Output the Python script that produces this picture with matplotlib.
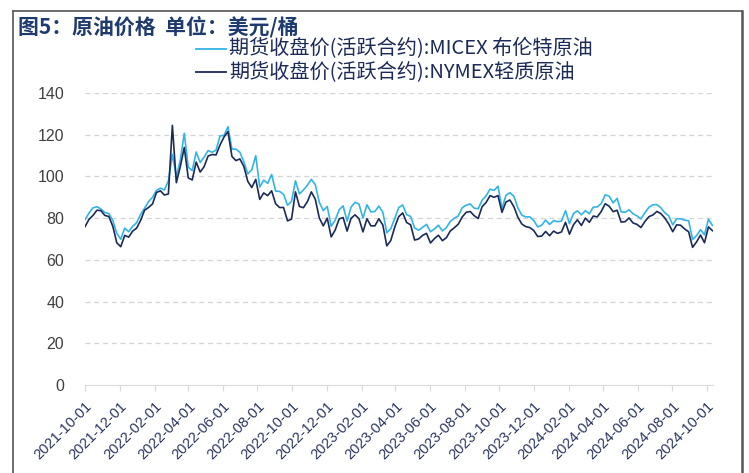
import matplotlib
matplotlib.use("Agg")
import matplotlib.pyplot as plt
import matplotlib.dates as mdates
from matplotlib.lines import Line2D
import numpy as np
import pandas as pd

plt.rcParams['font.family'] = ['Noto Sans CJK SC', 'DejaVu Sans']

# 周度数据(周五), 2021-10-01 起
brent = [
    79.3, 82.4, 84.9, 85.5, 84.4,            # 2021-10
    82.7, 82.2, 78.9, 72.7,                  # 2021-11
    69.9, 75.2, 73.5, 76.1, 77.8,            # 2021-12
    81.8, 84.7, 87.9, 90.0,                  # 2022-01
    93.3, 94.4, 93.5, 97.9,                  # 2022-02
    110.5, 100.0, 107.9, 120.7,              # 2022-03
    104.4, 102.8, 111.7, 106.7, 109.3,       # 2022-04
    112.4, 111.6, 112.6, 119.4,              # 2022-05
    119.7, 123.8, 113.1, 113.1,              # 2022-06
    111.6, 107.0, 101.2, 103.2, 110.0,       # 2022-07
    94.9, 98.2, 96.7, 100.9,                 # 2022-08
    93.0, 92.8, 91.4, 86.2, 88.0,            # 2022-09
    97.9, 91.6, 93.5, 95.8,                  # 2022-10
    98.6, 96.0, 87.6, 83.6,                  # 2022-11
    85.6, 76.1, 79.0, 84.0, 85.9,            # 2022-12
    78.6, 85.3, 87.6, 86.7,                  # 2023-01
    80.0, 86.4, 83.0, 83.2,                  # 2023-02
    85.8, 82.8, 73.0, 75.0, 79.8,            # 2023-03
    85.1, 86.3, 81.7, 80.8,                  # 2023-04
    75.3, 74.2, 75.6, 77.0,                  # 2023-05
    73.5, 74.8, 76.6, 73.9, 75.4,            # 2023-06
    78.5, 79.9, 81.1, 85.0,                  # 2023-07
    86.2, 86.8, 84.8, 84.5,                  # 2023-08
    88.6, 90.7, 93.9, 93.3, 95.3,            # 2023-09
    84.6, 90.9, 92.2, 90.5,                  # 2023-10
    84.9, 81.4, 80.6, 80.6,                  # 2023-11
    78.9, 75.8, 76.6, 79.1, 77.0,            # 2023-12
    78.8, 78.3, 78.6, 83.6,                  # 2024-01
    77.3, 82.2, 83.5, 81.6,                  # 2024-02
    83.6, 82.1, 85.3, 85.4, 87.0,            # 2024-03
    91.2, 90.5, 87.3, 89.5,                  # 2024-04
    83.0, 82.8, 84.0, 82.1, 81.1,            # 2024-05
    79.6, 82.6, 85.2, 86.4,                  # 2024-06
    86.5, 85.0, 82.6, 81.1,                  # 2024-07
    76.8, 79.7, 79.7, 79.0, 78.8,            # 2024-08
    69.8, 71.6, 74.5, 72.0,                  # 2024-09
    79.5, 76.5,                              # 2024-10
]
wti = [
    75.9, 79.4, 81.3, 83.8, 83.6,
    81.3, 80.8, 76.1, 68.2,
    66.3, 71.7, 70.9, 73.8, 75.2,
    78.9, 83.8, 85.1, 86.8,
    92.3, 93.1, 91.1, 91.6,
    124.5, 97.0, 104.7, 113.9,
    99.3, 98.3, 106.9, 102.1, 104.7,
    109.8, 110.5, 110.3, 115.1,
    118.9, 121.5, 109.6, 107.6,
    108.4, 104.8, 97.6, 94.7, 98.6,
    89.0, 92.1, 90.8, 93.1,
    86.9, 85.1, 85.1, 78.7, 79.5,
    92.6, 85.6, 85.0, 87.9,
    92.6, 89.0, 80.1, 76.3,
    80.0, 71.0, 74.3, 79.6, 80.3,
    73.8, 79.9, 81.6, 79.7,
    73.4, 79.7, 76.3, 76.3,
    79.7, 76.7, 66.7, 69.3, 75.7,
    80.7, 82.5, 77.9, 76.8,
    69.5, 70.0, 71.7, 72.7,
    68.1, 70.2, 71.8, 69.2, 70.6,
    73.9, 75.4, 77.1, 80.6,
    82.8, 83.2, 81.2, 79.8,
    85.5, 87.5, 90.8, 90.0, 90.8,
    82.8, 87.7, 88.7, 85.5,
    80.5, 77.2, 75.9, 75.5,
    74.1, 71.2, 71.4, 73.6, 71.6,
    73.8, 72.7, 73.4, 78.0,
    72.3, 76.8, 79.2, 76.5,
    80.0, 78.0, 81.0, 80.6, 83.2,
    86.9, 85.7, 83.1, 83.8,
    78.1, 78.3, 80.1, 77.7, 77.0,
    75.5, 78.4, 80.7, 81.5,
    83.2, 82.2, 80.1, 77.2,
    73.5, 76.8, 76.6, 74.8, 73.5,
    66.0, 68.6, 71.9, 68.2,
    75.8, 74.0,
]
assert len(brent) == len(wti)
dates = pd.date_range('2021-10-01', periods=len(brent), freq='W-FRI')

title = '图5：原油价格  单位：美元/桶'
label_brent = '期货收盘价(活跃合约):MICEX 布伦特原油'
label_wti = '期货收盘价(活跃合约):NYMEX轻质原油'
c_brent = '#33b4e6'
c_wti = '#1c2a58'

fig = plt.figure(figsize=(7.49, 4.73), dpi=100)
ax = fig.add_axes([85/749, 1-385/473, (713-85)/749, (385-93)/473])

ax.plot(dates, brent, color=c_brent, lw=1.2)
ax.plot(dates, wti, color=c_wti, lw=1.2)

ax.set_ylim(0, 140)
ax.set_yticks(np.arange(0, 141, 20))
ax.set_xlim(pd.Timestamp('2021-10-01'), pd.Timestamp('2024-10-12'))
ax.xaxis.set_major_locator(mdates.MonthLocator(bymonth=[2, 4, 6, 8, 10, 12], bymonthday=1))
ax.xaxis.set_major_formatter(mdates.DateFormatter('%Y-%m-%d'))

for y in range(20, 141, 20):
    ax.axhline(y, color='#d4d4d4', lw=0.9, ls=(0, (4, 3)), zorder=0)

for s in ['top', 'right', 'left']:
    ax.spines[s].set_visible(False)
ax.spines['bottom'].set_color('#d9d9d9')
ax.tick_params(axis='y', length=0, pad=15, labelsize=11.5, labelcolor='#404040')
ax.tick_params(axis='x', length=4, color='#d9d9d9', pad=6, labelsize=10.5, labelcolor='#2a3560')
for lab in ax.get_yticklabels():
    lab.set_fontfamily(['Liberation Sans', 'DejaVu Sans'])
for lab in ax.get_xticklabels():
    lab.set_fontfamily(['Liberation Sans', 'DejaVu Sans'])
    lab.set_rotation(45)
    lab.set_ha('right')
    lab.set_rotation_mode('anchor')

# 图例
for yy, col, txt in [(49, c_brent, label_brent), (72, c_wti, label_wti)]:
    fig.add_artist(Line2D([196/749, 226/749], [1-yy/473]*2, color=col, lw=1.3))
    fig.text(229/749, 1-yy/473, txt, fontsize=14.5, color='#1c2a58', va='center', ha='left')

fig.text(18/749, 1-27/473, title, fontsize=15, fontweight='bold', color='#1f3a6e', va='center', ha='left')

# 外框
bc = '#555555'
fig.add_artist(Line2D([13/749, 13/749], [0, 1-11/473], color=bc, lw=1.2))
fig.add_artist(Line2D([13/749, 742/749], [1-11/473]*2, color=bc, lw=1.2))
fig.add_artist(Line2D([742/749, 742/749], [0, 1-11/473], color=bc, lw=1.8))

fig.savefig('out.png', dpi=100)
